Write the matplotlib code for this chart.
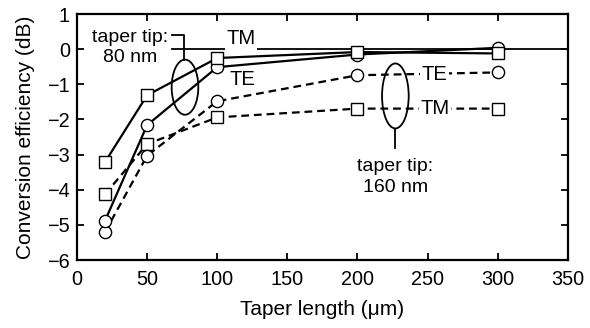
import matplotlib
matplotlib.use("Agg")
import matplotlib.pyplot as plt
from matplotlib.patches import Ellipse

plt.rcParams['font.family'] = ['Liberation Sans', 'DejaVu Sans']

taper_length = [20, 50, 100, 200, 300]
tm_80 = [-3.21, -1.31, -0.25, -0.08, -0.12]
te_80 = [-4.88, -2.16, -0.51, -0.15, 0.04]
te_160 = [-5.2, -3.03, -1.48, -0.74, -0.66]
tm_160 = [-4.13, -2.70, -1.94, -1.69, -1.69]

xticks = [0, 50, 100, 150, 200, 250, 300, 350]
yticks = [1, 0, -1, -2, -3, -4, -5, -6]

fig = plt.figure(figsize=(5.9, 3.28), dpi=100)
ax = fig.add_axes([0.1305, 0.2073, 0.832, 0.7497])

ax.plot([68, 350], [0, 0], color='black', lw=1.3, zorder=1)

mk = dict(markersize=8.8, markerfacecolor='white', markeredgecolor='black', markeredgewidth=1.0)
dash = (0, (3.5, 2.2))
ax.plot(taper_length, tm_160, color='black', lw=1.6, ls=dash, marker='s', zorder=2, **mk)
ax.plot(taper_length, te_160, color='black', lw=1.6, ls=dash, marker='o', zorder=2, **mk)
ax.plot(taper_length, te_80, color='black', lw=1.6, marker='o', zorder=3, **mk)
ax.plot(taper_length, tm_80, color='black', lw=1.6, marker='s', zorder=3, **mk)

ax.set_xlim(0, 350)
ax.set_ylim(-6, 1)
ax.set_xticks(xticks)
ax.set_yticks(yticks)
ax.set_yticklabels([str(v).replace('-', '\u2212') for v in yticks])
ax.tick_params(direction='in', length=5, width=1.3, labelsize=14.3, top=True, right=True)
ax.tick_params(axis='x', pad=7)
ax.tick_params(axis='y', pad=5)
for s in ax.spines.values():
    s.set_linewidth(1.6)

ax.set_xlabel('Taper length (\u03bcm)', fontsize=15, labelpad=8)
ax.set_ylabel('Conversion efficiency (dB)', fontsize=15, labelpad=9)

bbox = dict(facecolor='white', edgecolor='none', pad=1)
# 80 nm annotations
ax.text(38, 0.04, 'taper tip:\n80 nm', fontsize=14, ha='center', va='center', linespacing=1.25, zorder=4)
ax.plot([68, 76, 76], [0.4, 0.4, -0.3], color='black', lw=1.3, zorder=4)
ax.add_patch(Ellipse((77, -1.08), 19, 1.57, fill=False, edgecolor='black', lw=1.3, zorder=4))
ax.text(117, 0.3, 'TM', fontsize=14.5, ha='center', va='center', bbox=bbox, zorder=4)
ax.text(118, -0.85, 'TE', fontsize=14.5, ha='center', va='center', zorder=4)

# 160 nm annotations
ax.add_patch(Ellipse((227, -1.33), 19, 1.85, fill=False, edgecolor='black', lw=1.3, zorder=4))
ax.plot([227, 227], [-2.26, -2.8], color='black', lw=1.3, zorder=4)
ax.text(227, -3.64, 'taper tip:\n160 nm', fontsize=14, ha='center', va='center', linespacing=1.25, zorder=4)
ax.text(255, -0.71, 'TE', fontsize=14.5, ha='center', va='center', bbox=bbox, zorder=4)
ax.text(255, -1.68, 'TM', fontsize=14.5, ha='center', va='center', bbox=bbox, zorder=4)

fig.savefig('out.png', dpi=100)
